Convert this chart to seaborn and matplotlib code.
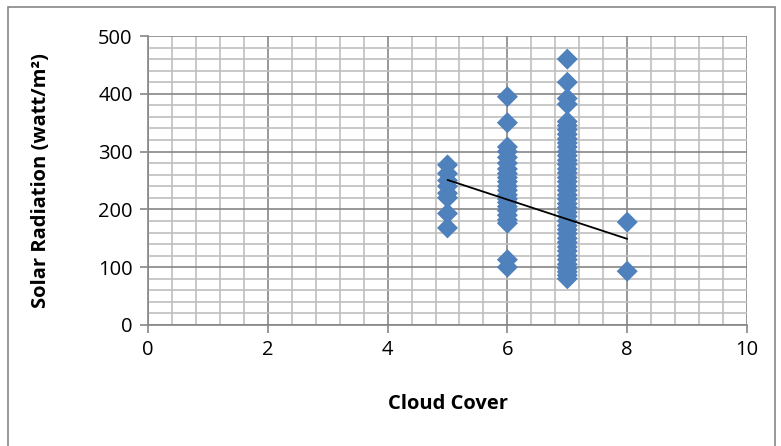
import numpy as np
import pandas as pd
import seaborn as sns
import matplotlib.pyplot as plt
from matplotlib.patches import Rectangle
from matplotlib.ticker import MultipleLocator

# values
cover_5 = [277, 262, 250, 240, 228, 220, 193, 168]
cover_6 = [395, 350, 308, 300, 290, 280, 270, 262, 255, 248, 240, 233, 225, 218, 212,
           205, 198, 190, 182, 176, 113, 100]
cover_7 = [460, 420, 392, 382, 352, 345, 338, 330, 322, 315, 308, 300, 293, 285, 278,
           270, 263, 255, 248, 240, 233, 225, 218, 210, 203, 195, 188, 180, 172, 165,
           158, 150, 143, 135, 128, 120, 113, 105, 98, 92, 86, 80]
cover_8 = [178, 93]
trend_x = [5, 8]
trend_y = [251, 149]

df = pd.DataFrame({
    'cloud': [5] * len(cover_5) + [6] * len(cover_6) + [7] * len(cover_7) + [8] * len(cover_8),
    'solar': cover_5 + cover_6 + cover_7 + cover_8,
})

sns.set_style('white')
plt.rcParams['font.family'] = ['Open Sans', 'DejaVu Sans']
plt.rcParams['text.color'] = 'black'
plt.rcParams['axes.labelcolor'] = 'black'
plt.rcParams['xtick.labelcolor'] = 'black'
plt.rcParams['ytick.labelcolor'] = 'black'

fig = plt.figure(figsize=(7.81, 4.46), dpi=100)
ax = fig.add_axes([148 / 781, 1 - 325 / 446, (747 - 148) / 781, (325 - 36) / 446])

ax.set_xlim(0, 10)
ax.set_ylim(0, 500)
ax.xaxis.set_major_locator(MultipleLocator(2))
ax.xaxis.set_minor_locator(MultipleLocator(0.4))
ax.yaxis.set_major_locator(MultipleLocator(100))
ax.yaxis.set_minor_locator(MultipleLocator(20))
ax.grid(which='minor', color='#bfbfbf', linewidth=1.2)
ax.grid(which='major', color='#868686', linewidth=1.2)
ax.set_axisbelow(True)

sns.scatterplot(data=df, x='cloud', y='solar', marker='D', s=115, color='#4f81bd',
                edgecolor='none', ax=ax, zorder=3)
sns.lineplot(x=trend_x, y=trend_y, color='black', linewidth=1.3, ax=ax, zorder=4)

for side in ['top', 'right']:
    ax.spines[side].set_visible(False)
for side in ['left', 'bottom']:
    ax.spines[side].set_color('#868686')
    ax.spines[side].set_linewidth(1.2)

ax.tick_params(which='major', direction='out', length=6, width=1.2, color='#868686',
               labelsize=14.5, pad=5, left=True, bottom=True)
ax.tick_params(which='minor', length=0)
ax.set_xticks([0, 2, 4, 6, 8, 10])
ax.set_yticks([0, 100, 200, 300, 400, 500])
ax.set_xlabel('Cloud Cover', fontsize=14.5, fontweight='bold', labelpad=24)
ax.set_ylabel('Solar Radiation (watt/m²)', fontsize=14.5, fontweight='bold', labelpad=34)

fig.patches.append(Rectangle((8 / 781, -0.1), (775 - 8) / 781, 1.1 - 7 / 446,
                             transform=fig.transFigure, fill=False,
                             edgecolor='#868686', linewidth=1.2))

plt.savefig('out.png', dpi=100)
